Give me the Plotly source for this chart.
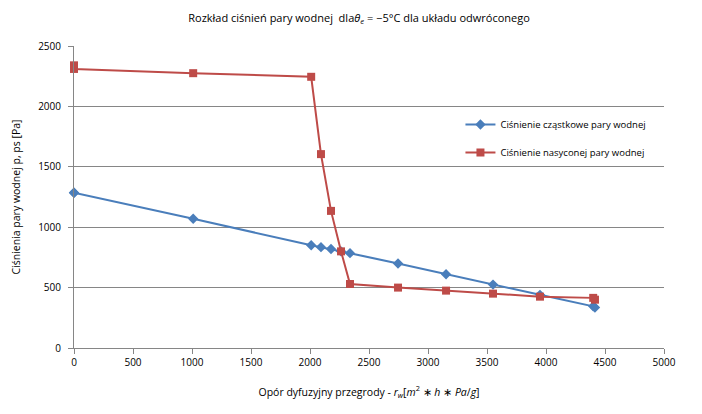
import plotly.graph_objects as go

x_vals = [0, 0, 1010, 2010, 2093, 2178, 2263, 2339, 2746, 3153, 3551, 3949, 4400, 4415]
p_partial = [1285, 1285, 1070, 850, 835, 820, 800, 785, 700, 610, 525, 440, 345, 335]
p_sat = [2340, 2310, 2275, 2245, 1605, 1135, 800, 530, 500, 475, 450, 425, 415, 400]

x_ticks = [0, 500, 1000, 1500, 2000, 2500, 3000, 3500, 4000, 4500, 5000]
y_ticks = [0, 500, 1000, 1500, 2000, 2500]

FONT = "Open Sans"
fig = go.Figure()
fig.add_trace(go.Scatter(
    x=x_vals, y=p_partial, mode="lines+markers",
    name="Ciśnienie cząstkowe pary wodnej", legendgroup="a",
    line=dict(color="#4A7EBB", width=2),
    marker=dict(symbol="diamond", size=8, color="#4A7EBB"),
    cliponaxis=False,
))
fig.add_trace(go.Scatter(
    x=x_vals, y=p_sat, mode="lines+markers",
    name="Ciśnienie nasyconej pary wodnej", legendgroup="b",
    line=dict(color="#BE4B48", width=2),
    marker=dict(symbol="square", size=8, color="#BE4B48"),
    cliponaxis=False,
))

fig.update_layout(
    width=702, height=414,
    margin=dict(l=66, r=46, t=38, b=74),
    paper_bgcolor="white", plot_bgcolor="white",
    font=dict(family=FONT, size=10, color="#000000"),
    title=dict(
        text="Rozkład ciśnień pary wodnej  dla<i>θ<sub>e</sub></i> = −5°C dla układu odwróconego",
        x=0.5, xanchor="center", y=0.976, yanchor="middle",
        font=dict(family=FONT, size=11),
    ),
    showlegend=True,
    legend=dict(
        x=0.655, y=0.788, xanchor="left", yanchor="top",
        bgcolor="rgba(0,0,0,0)", font=dict(size=9.5, family=FONT),
        traceorder="grouped", tracegroupgap=9, itemwidth=30,
    ),
    xaxis=dict(
        range=[0, 5000], tickvals=x_ticks, showgrid=False, zeroline=False,
        showline=True, linecolor="#868686", linewidth=1,
        ticks="outside", ticklen=5, tickcolor="#868686",
        tickfont=dict(size=10), automargin=False,
        title=dict(text="Opór dyfuzyjny przegrody - <i>r<sub>w</sub></i>[<i>m</i><sup>2</sup> ∗ <i>h</i> ∗ <i>Pa</i>/<i>g</i>]",
                   font=dict(size=10.5), standoff=20),
    ),
    yaxis=dict(
        range=[0, 2500], tickvals=y_ticks, showgrid=True, gridcolor="#868686",
        gridwidth=1, zeroline=False,
        showline=True, linecolor="#868686", linewidth=1,
        ticks="outside", ticklen=5, tickcolor="#868686",
        tickfont=dict(size=10), ticklabelstandoff=5, automargin=False,
        title=dict(text="Ciśnienia pary wodnej p, ps [Pa]", font=dict(size=10.5), standoff=15),
    ),
)

fig.write_html("out.html")
